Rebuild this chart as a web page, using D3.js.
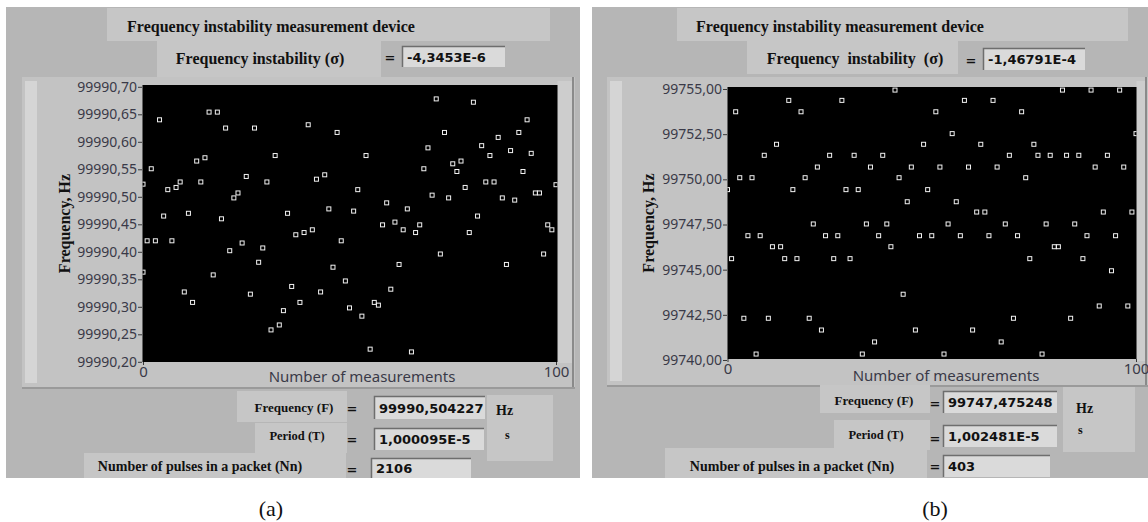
<!DOCTYPE html>
<html>
<head>
<meta charset="utf-8">
<script src="https://cdn.jsdelivr.net/npm/d3@7"></script>
<style>
  body { margin: 0; background: #fff; }
  svg text { white-space: pre; }
</style>
</head>
<body>
<svg id="drawing_region" width="1148" height="522"></svg>
<script>
const frequencyA = [
  99990.523, 99990.420, 99990.551, 99990.420, 99990.640, 99990.465, 99990.513, 99990.420, 99990.517, 99990.527,
  99990.327, 99990.470, 99990.308, 99990.565, 99990.527, 99990.571, 99990.654, 99990.358, 99990.654, 99990.460,
  99990.625, 99990.402, 99990.498, 99990.507, 99990.416, 99990.537, 99990.323, 99990.625, 99990.381, 99990.407,
  99990.527, 99990.258, 99990.575, 99990.267, 99990.293, 99990.470, 99990.337, 99990.431, 99990.308, 99990.435,
  99990.631, 99990.440, 99990.532, 99990.327, 99990.540, 99990.478, 99990.372, 99990.617, 99990.420, 99990.347,
  99990.298, 99990.474, 99990.513, 99990.283, 99990.575, 99990.223, 99990.308, 99990.303, 99990.449, 99990.489,
  99990.332, 99990.454, 99990.377, 99990.440, 99990.478, 99990.218, 99990.435, 99990.449, 99990.551, 99990.589,
  99990.503, 99990.678, 99990.396, 99990.617, 99990.498, 99990.560, 99990.546, 99990.565, 99990.517, 99990.435,
  99990.672, 99990.465, 99990.593, 99990.527, 99990.575, 99990.527, 99990.608, 99990.498, 99990.377, 99990.584,
  99990.494, 99990.617, 99990.546, 99990.640, 99990.579, 99990.507, 99990.507, 99990.396, 99990.449, 99990.440,
  99990.522
];
// a second, half-hidden point sitting on the left edge of graph (a)
const extraA = [[0, 99990.363]];

const frequencyB = [
  99749.43, 99745.61, 99753.74, 99750.09, 99742.31, 99746.88, 99750.09, 99740.33, 99746.88, 99751.33,
  99742.31, 99746.27, 99751.94, 99746.27, 99745.61, 99754.37, 99749.43, 99745.61, 99753.74, 99750.09,
  99742.31, 99747.53, 99750.68, 99741.66, 99746.88, 99751.33, 99745.61, 99746.88, 99754.37, 99749.43,
  99745.61, 99751.33, 99749.43, 99740.33, 99747.53, 99750.68, 99741.00, 99746.88, 99751.33, 99747.53,
  99746.27, 99754.94, 99750.09, 99743.64, 99748.76, 99750.68, 99741.66, 99746.88, 99751.94, 99749.43,
  99746.88, 99753.74, 99750.68, 99740.33, 99747.53, 99752.53, 99748.76, 99746.88, 99754.37, 99750.68,
  99741.66, 99748.19, 99751.94, 99748.19, 99746.88, 99754.37, 99750.68, 99741.00, 99747.53, 99751.33,
  99742.31, 99746.88, 99753.74, 99750.09, 99745.61, 99751.94, 99751.33, 99740.33, 99747.53, 99751.33,
  99746.27, 99746.27, 99754.94, 99751.33, 99742.31, 99747.53, 99751.33, 99745.61, 99746.88, 99754.94,
  99750.68, 99742.99, 99748.19, 99751.33, 99744.94, 99746.88, 99754.94, 99750.68, 99742.99, 99748.19,
  99752.53
];
const extraB = [];

const yTicksA = [99990.20, 99990.25, 99990.30, 99990.35, 99990.40, 99990.45, 99990.50, 99990.55, 99990.60, 99990.65, 99990.70];
const yTicksB = [99740.00, 99742.50, 99745.00, 99747.50, 99750.00, 99752.50, 99755.00];
const xTicks = [0, 100];

// sigma, frequency, period, Nn
const readoutsA = ['-4,3453E-6', '99990,504227', '1,000095E-5', '2106'];
const readoutsB = ['-1,46791E-4', '99747,475248', '1,002481E-5', '403'];

const serif = '"Liberation Serif", "Times New Roman", serif';
const sans = '"Noto Sans", "Open Sans", sans-serif';
const mono = '"DejaVu Sans", Verdana, sans-serif';

class FrequencyPanel {
  constructor(config, data) {
    this.config = config;
    this.data = data;
    this.init();
  }

  init() {
    let self = this;
    self.svg = d3.select(self.config.parent).append('g');
  }

  update() {
    let self = this;
    let c = self.config;
    self.xScale = d3.scaleLinear().domain([0, 100]).range(c.xRange);
    self.yScale = d3.scaleLinear().domain([c.yTicks[0], c.yTicks[c.yTicks.length - 1]]).range(c.yRange);
    self.points = self.data.values.map((f, i) => ({ n: i, f: f }))
      .concat(self.data.extra.map(d => ({ n: d[0], f: d[1] })));
    self.render();
  }

  box(x, y, w, h, fill) {
    this.svg.append('rect').attr('x', x).attr('y', y).attr('width', w).attr('height', h).attr('fill', fill);
  }

  label(x, y, txt, size, anchor, family, weight) {
    this.svg.append('text').attr('x', x).attr('y', y)
      .attr('dy', '0.35em').attr('text-anchor', anchor || 'middle')
      .style('font-family', family || serif).style('font-weight', weight || 'bold')
      .style('font-size', size + 'px').attr('fill', '#111').text(txt);
  }

  readout(b, txt) {
    let self = this;
    self.box(b[0], b[1], b[2], b[3], '#dadada');
    self.svg.append('path')
      .attr('d', `M${b[0] + 0.5},${b[1] + b[3]}V${b[1] + 0.5}H${b[0] + b[2]}`)
      .attr('stroke', '#6e6e6e').attr('stroke-width', 1.5).attr('fill', 'none');
    self.label(b[0] + 5, b[1] + b[3] / 2 + 0.5, txt, 13, 'start', mono, 'bold');
  }

  render() {
    let self = this;
    let c = self.config;
    let r = self.data.readouts;

    self.box(c.panel[0], c.panel[1], c.panel[2], c.panel[3], '#b6b6b6');

    // header
    self.box(c.titleBox[0], c.titleBox[1], c.titleBox[2], c.titleBox[3], '#c6c6c6');
    self.label(c.titleText[0], c.titleText[1], 'Frequency instability measurement device', 16);
    self.box(c.sigmaBox[0], c.sigmaBox[1], c.sigmaBox[2], c.sigmaBox[3], '#c6c6c6');
    self.label(c.sigmaText[0], c.sigmaText[1], c.sigmaLabel, 16);
    self.label(c.sigmaEq[0], c.sigmaEq[1], '=', 13, 'middle', mono);
    self.readout(c.sigmaVal, r[0]);

    // graph frame
    let g = c.frame;
    self.box(g[0], g[1], g[2], g[3], '#c3c3c3');
    self.box(g[0] + 3, g[1] + 4, 12, g[3] - 10, '#d5d5d5');
    self.box(c.plotBox[2], g[1] + 4, g[0] + g[2] - c.plotBox[2] - 3, g[3] - 30, '#cdcdcd');
    self.box(g[0] + g[2] - 3, g[1], 2, g[3], '#8a8a8a');
    self.box(g[0], g[1] + g[3] - 2, g[2], 2, '#9a9a9a');

    let p = c.plotBox;
    self.svg.append('rect').attr('x', p[0]).attr('y', p[1])
      .attr('width', p[2] - p[0]).attr('height', p[3] - p[1]).attr('fill', '#000');

    let clipId = 'clip-' + c.name;
    self.svg.append('clipPath').attr('id', clipId).append('rect')
      .attr('x', p[0]).attr('y', p[1]).attr('width', p[2] - p[0]).attr('height', p[3] - p[1]);

    self.svg.append('g').attr('clip-path', `url(#${clipId})`)
      .selectAll('rect').data(self.points).join('rect')
      .attr('x', d => self.xScale(d.n) - 2)
      .attr('y', d => self.yScale(d.f) - 2)
      .attr('width', 4).attr('height', 4)
      .attr('fill', 'none').attr('stroke', '#f2f2f2').attr('stroke-width', 1);

    let yAxis = self.svg.append('g')
      .attr('transform', `translate(${p[0] - 0.5},0)`)
      .call(d3.axisLeft(self.yScale).tickValues(c.yTicks).tickSize(4).tickPadding(1)
        .tickFormat(d => d3.format('.2f')(d).replace('.', ',')));
    yAxis.select('.domain').remove();
    yAxis.selectAll('line').attr('stroke', '#3a3a3a');
    yAxis.selectAll('text').style('font-family', sans).style('font-size', '14px').attr('fill', '#3a3a48');

    let xAxis = self.svg.append('g')
      .attr('transform', `translate(0,${p[3]})`)
      .call(d3.axisBottom(self.xScale).tickValues(xTicks).tickSize(3).tickPadding(1));
    xAxis.select('.domain').remove();
    xAxis.selectAll('line').attr('stroke', '#3a3a3a');
    xAxis.selectAll('text').style('font-family', sans).style('font-size', '15px').attr('fill', '#3a3a48');

    self.svg.append('text').attr('x', c.xLabel[0]).attr('y', c.xLabel[1]).attr('dy', '0.35em')
      .attr('text-anchor', 'middle').style('font-family', sans).style('font-size', '15px')
      .attr('fill', '#3a3a48').text('Number of measurements');

    self.svg.append('text')
      .attr('transform', `translate(${c.yLabelX},${(p[1] + p[3]) / 2}) rotate(-90)`)
      .attr('dy', '0.35em').attr('text-anchor', 'middle')
      .style('font-family', serif).style('font-weight', 'bold').style('font-size', '16px')
      .attr('fill', '#111').text('Frequency, Hz');

    // readouts below the graph
    let f = c.freq;
    self.box(f.box[0], f.box[1], f.box[2], f.box[3], '#c6c6c6');
    self.label(f.text[0], f.text[1], 'Frequency (F)', 13);
    self.label(f.eq[0], f.eq[1], '=', 13, 'middle', mono);
    self.readout(f.val, r[1]);

    let u = c.unitBox;
    self.box(u[0], u[1], u[2], u[3], '#c6c6c6');
    self.label(c.hz[0], c.hz[1], 'Hz', 14, 'start');
    self.label(c.sec[0], c.sec[1], 's', 12, 'start');

    let t = c.period;
    self.box(t.box[0], t.box[1], t.box[2], t.box[3], '#c6c6c6');
    self.label(t.text[0], t.text[1], 'Period (T)', 12.5);
    self.label(t.eq[0], t.eq[1], '=', 13, 'middle', mono);
    self.readout(t.val, r[2]);

    let n = c.pulses;
    self.box(n.box[0], n.box[1], n.box[2], n.box[3], '#c6c6c6');
    self.label(n.text[0], n.text[1], 'Number of pulses in a packet (Nn)', 14);
    self.label(n.eq[0], n.eq[1], '=', 13, 'middle', mono);
    self.readout(n.val, r[3]);

    self.svg.append('text').attr('x', c.caption[0]).attr('y', c.caption[1])
      .attr('text-anchor', 'middle').style('font-family', serif).style('font-size', '22px')
      .attr('fill', '#111').text(c.captionText);
  }
}

let configA = {
  parent: '#drawing_region', name: 'a',
  panel: [6, 7, 574, 471],
  titleBox: [107, 8, 443, 33], titleText: [271, 26],
  sigmaBox: [157, 41, 224, 37], sigmaText: [260, 58], sigmaLabel: 'Frequency instability (\u03c3)',
  sigmaEq: [390, 57], sigmaVal: [402, 46, 103, 21],
  frame: [22, 77, 553, 312],
  plotBox: [142.5, 85, 557.5, 362],
  xRange: [143, 556], yRange: [361.8, 86.8], yTicks: yTicksA,
  xLabel: [362, 377], yLabelX: 64,
  freq: { box: [237, 391, 110, 31], text: [294, 407], eq: [352, 408], val: [374, 396, 111, 23] },
  unitBox: [487, 395, 66, 66], hz: [496, 410], sec: [505, 435],
  period: { box: [255, 423, 92, 30], text: [297, 436], eq: [352, 439], val: [374, 428, 110, 22] },
  pulses: { box: [84, 453, 262, 25], text: [200, 466], eq: [352, 469], val: [371, 458, 100, 20] },
  caption: [271, 516], captionText: '(a)'
};

let configB = {
  parent: '#drawing_region', name: 'b',
  panel: [592, 7, 556, 471],
  titleBox: [677, 8, 451, 33], titleText: [840, 26],
  sigmaBox: [747, 41, 211, 33], sigmaText: [855, 58], sigmaLabel: 'Frequency  instability  (\u03c3)',
  sigmaEq: [971, 60], sigmaVal: [983, 48, 102, 22],
  frame: [607, 77, 541, 310],
  plotBox: [727.5, 87, 1136.5, 359],
  xRange: [727.5, 1136], yRange: [360, 89], yTicks: yTicksB,
  xLabel: [946, 376], yLabelX: 648,
  freq: { box: [820, 385, 110, 28], text: [874, 400], eq: [935, 403], val: [943, 391, 114, 22] },
  unitBox: [1063, 387, 72, 65], hz: [1076, 408], sec: [1078, 430],
  period: { box: [834, 420, 96, 30], text: [876, 435], eq: [935, 438], val: [943, 425, 114, 22] },
  pulses: { box: [665, 448, 262, 30], text: [792, 466], eq: [935, 466], val: [943, 455, 107, 22] },
  caption: [935, 516], captionText: '(b)'
};

const panelA = new FrequencyPanel(configA, { values: frequencyA, extra: extraA, readouts: readoutsA });
panelA.update();
const panelB = new FrequencyPanel(configB, { values: frequencyB, extra: extraB, readouts: readoutsB });
panelB.update();
</script>
</body>
</html>
